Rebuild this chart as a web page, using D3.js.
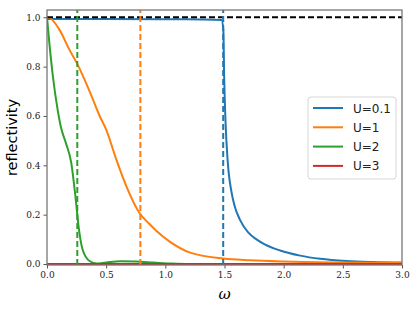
<!DOCTYPE html>
<html>
<head>
<meta charset="utf-8">
<script src="https://cdn.jsdelivr.net/npm/d3@7"></script>
<style>
  body { margin: 0; background: #fff; }
</style>
</head>
<body>
<svg id="chart" width="416" height="310"></svg>
<script>
// reflectivity vs omega
var omegaTicks = [0.0, 0.5, 1.0, 1.5, 2.0, 2.5, 3.0];
var reflTicks = [0.0, 0.2, 0.4, 0.6, 0.8, 1.0];

var blueU01 = [
  [0, 0.993], [0.5, 0.993], [1.0, 0.992], [1.3, 0.991], [1.475, 0.989],
  [1.49, 0.95], [1.497, 0.76], [1.509, 0.572], [1.526, 0.423], [1.56, 0.289],
  [1.59, 0.228], [1.63, 0.18], [1.70, 0.128], [1.77, 0.1], [1.84, 0.08],
  [1.97, 0.055], [2.14, 0.034], [2.31, 0.021], [2.53, 0.012], [2.75, 0.008], [3.0, 0.006]
];
var orangeU1 = [
  [0, 1.0], [0.03, 0.995], [0.106, 0.949], [0.19, 0.868], [0.26, 0.807],
  [0.36, 0.70], [0.445, 0.60], [0.50, 0.545], [0.586, 0.423], [0.67, 0.316],
  [0.78, 0.208], [0.868, 0.161], [0.925, 0.134], [1.04, 0.09], [1.21, 0.046],
  [1.49, 0.022], [1.715, 0.015], [2.0, 0.01], [2.5, 0.006], [3.0, 0.004]
];
var greenU2 = [
  [0, 1.0], [0.02, 0.895], [0.05, 0.76], [0.09, 0.625], [0.12, 0.55],
  [0.16, 0.49], [0.205, 0.41], [0.24, 0.275], [0.27, 0.14], [0.30, 0.06],
  [0.36, 0.012], [0.42, 0.002], [0.5, 0.006], [0.62, 0.011], [0.75, 0.01],
  [0.9, 0.006], [1.05, 0.002], [1.2, 0.0], [3.0, 0.0]
];
var redU3 = [[0, 0.0], [1.0, 0.0], [2.0, 0.0], [3.0, 0.0]];

var seriesNames = ["U=0.1", "U=1", "U=2", "U=3"];
var seriesData = [blueU01, orangeU1, greenU2, redU3];
var seriesColors = ["#1f77b4", "#ff7f0e", "#2ca02c", "#d62728"];
var edgeOmega = [1.489, 0.789, 0.256]; // dashed markers, same order as colours

var svg = d3.select("#chart");
var margin = {left: 47, right: 14, top: 10, bottom: 45};
var W = 416, H = 310;

var x = d3.scaleLinear().domain([0, 3]).range([margin.left, W - margin.right]);
var y = d3.scaleLinear().domain([-0.004, 1.0295]).range([H - margin.bottom, margin.top]);

var line = d3.line()
    .x(d => x(d[0]))
    .y(d => y(d[1]))
    .curve(d3.curveMonotoneX);

var plot = svg.append("g");
plot.append("clipPath").attr("id", "clip")
  .append("rect")
    .attr("x", x(0)).attr("y", y(1.0295))
    .attr("width", x(3) - x(0)).attr("height", y(-0.004) - y(1.0295));

var g = plot.append("g").attr("clip-path", "url(#clip)");

// data curves
seriesData.forEach(function(s, i) {
  g.append("path")
    .datum(s)
    .attr("d", line)
    .style("fill", "none")
    .style("stroke", seriesColors[i])
    .style("stroke-width", 2);
});

// dashed guides
g.append("line")
  .attr("x1", x(0)).attr("x2", x(3))
  .attr("y1", y(1)).attr("y2", y(1))
  .style("stroke", "#000").style("stroke-width", 2)
  .style("stroke-dasharray", "6,3");

edgeOmega.forEach(function(w, i) {
  g.append("line")
    .attr("x1", x(w)).attr("x2", x(w))
    .attr("y1", y(-0.004)).attr("y2", y(1.0295))
    .style("stroke", seriesColors[i]).style("stroke-width", 2)
    .style("stroke-dasharray", "6,3");
});

// axes
var xAxis = svg.append("g")
  .attr("transform", "translate(0," + (H - margin.bottom) + ")")
  .call(d3.axisBottom(x).tickValues(omegaTicks).tickFormat(d3.format(".1f")).tickSize(3.5).tickPadding(3));
var yAxis = svg.append("g")
  .attr("transform", "translate(" + margin.left + ",0)")
  .call(d3.axisLeft(y).tickValues(reflTicks).tickFormat(d3.format(".1f")).tickSize(3.5).tickPadding(3));
[xAxis, yAxis].forEach(function(a) {
  a.attr("font-family", "DejaVu Serif, serif").attr("font-size", 9);
  a.select(".domain").remove();
  a.selectAll(".tick line").style("stroke", "#555");
  a.selectAll(".tick text").style("fill", "#222");
});

// frame
svg.append("rect")
  .attr("x", x(0)).attr("y", y(1.0295))
  .attr("width", x(3) - x(0)).attr("height", y(-0.004) - y(1.0295))
  .style("fill", "none").style("stroke", "#777").style("stroke-width", 1.3);

// axis labels
svg.append("text")
  .attr("transform", "translate(17," + ((margin.top + H - margin.bottom) / 2) + ") rotate(-90)")
  .attr("text-anchor", "middle")
  .style("font-family", "DejaVu Sans, sans-serif")
  .style("font-size", "14.5px")
  .text("reflectivity");

svg.append("text")
  .attr("x", (x(0) + x(3)) / 2)
  .attr("y", 299)
  .attr("text-anchor", "middle")
  .style("font-family", "DejaVu Serif, serif")
  .style("font-style", "italic")
  .style("font-size", "15px")
  .text("ω");

// legend
var leg = svg.append("g").attr("transform", "translate(308,97)");
leg.append("rect")
  .attr("width", 88).attr("height", 82).attr("rx", 3)
  .style("fill", "#fff").style("fill-opacity", 0.8)
  .style("stroke", "#d6d6d6").style("stroke-width", 1);
seriesNames.forEach(function(n, i) {
  var yy = 11 + i * 19.3;
  leg.append("line")
    .attr("x1", 5).attr("x2", 35).attr("y1", yy).attr("y2", yy)
    .style("stroke", seriesColors[i]).style("stroke-width", 2);
  leg.append("text")
    .attr("x", 45).attr("y", yy + 4.5)
    .style("font-family", "DejaVu Sans, sans-serif")
    .style("font-size", "12px")
    .style("fill", "#222")
    .text(n);
});
</script>
</body>
</html>
